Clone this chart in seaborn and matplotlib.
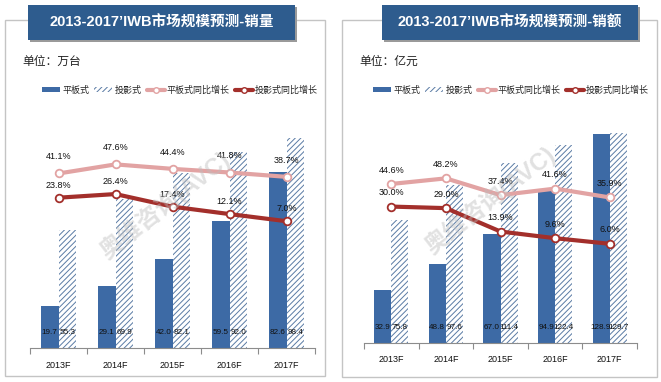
import numpy as np
import pandas as pd
import matplotlib.pyplot as plt
import seaborn as sns
from matplotlib.patches import Rectangle, Patch
from matplotlib.lines import Line2D

# data
years = ["2013F", "2014F", "2015F", "2016F", "2017F"]

vol_flat = [19.7, 29.1, 42.0, 59.5, 82.6]
vol_proj = [55.3, 69.9, 82.1, 92.0, 98.4]
vol_flat_growth = [41.1, 47.6, 44.4, 41.8, 38.7]
vol_proj_growth = [23.8, 26.4, 17.4, 12.1, 7.0]

amt_flat = [32.9, 48.8, 67.0, 94.9, 128.9]
amt_proj = [75.8, 97.6, 111.4, 122.4, 129.7]
amt_flat_growth = [44.6, 48.2, 37.4, 41.6, 35.9]
amt_proj_growth = [30.0, 29.0, 13.9, 9.6, 6.0]

series_names = ["平板式", "投影式", "平板式同比增长", "投影式同比增长"]

# colours
BLUE = "#3D6AA5"
HATCH = "#5A7BA5"
PINK = "#E2A3A3"
DARKRED = "#A32F2B"
BANNER = "#2E5C8E"

sns.set_theme(style="white")
plt.rcParams["font.family"] = ["Liberation Sans", "Noto Sans CJK SC"]
plt.rcParams["hatch.linewidth"] = 0.7

W, H = 661, 382
fig = plt.figure(figsize=(W / 100, H / 100), dpi=100)


def px_rect(x0, y0, x1, y1):
    return [x0 / W, 1 - y1 / H, (x1 - x0) / W, (y1 - y0) / H]


def fig_box(x0, y0, x1, y1, **kw):
    r = Rectangle((x0 / W, 1 - y1 / H), (x1 - x0) / W, (y1 - y0) / H,
                  transform=fig.transFigure, **kw)
    fig.add_artist(r)


def draw_panel(box, banner, axbox, title, unit, flat, proj, g_flat, g_proj,
               ymax, glim, legend_x, wm_xy, off_flat, off_proj):
    # Rahmen + Titelbalken
    fig_box(*box, fill=False, ec="#C4C4C4", lw=1.0)
    bx0, by0, bx1, by1 = banner
    fig_box(bx0 + 2, by0 + 2, bx1 + 2, by1 + 2, fc="#9A9A9A", ec="none")
    fig_box(*banner, fc=BANNER, ec="none")
    fig.text((bx0 + bx1) / 2 / W, 1 - (by0 + by1) / 2 / H, title,
             color="white", fontsize=10.5, fontweight="bold",
             ha="center", va="center")
    fig.text((box[0] + 17) / W, 1 - 62 / H, unit, fontsize=8.5,
             ha="left", va="center", color="#222222")

    ax = fig.add_axes(px_rect(*axbox))
    df = pd.DataFrame({
        "year": years * 2,
        "value": flat + proj,
        "type": [series_names[0]] * len(years) + [series_names[1]] * len(years),
    })
    sns.barplot(data=df, x="year", y="value", hue="type",
                palette=[BLUE, "white"], saturation=1, width=0.63, gap=0,
                legend=False, ax=ax)
    for p in ax.containers[1]:
        p.set_hatch("//////")
        p.set_edgecolor(HATCH)
        p.set_linewidth(0)
    for p in ax.containers[0]:
        p.set_linewidth(0)

    # Werte unten in den Balken
    for cont, vals in zip(ax.containers, [flat, proj]):
        for p, v in zip(cont, vals):
            ax.annotate(f"{v:.1f}", (p.get_x() + p.get_width() / 2, 0),
                        xytext=(0, 11), textcoords="offset points",
                        ha="center", va="center", fontsize=5.9,
                        color="#111111")

    # Wachstumslinien
    ax2 = ax.twinx()
    for vals, col, off in [(g_flat, PINK, off_flat), (g_proj, DARKRED, off_proj)]:
        sns.pointplot(x=years, y=vals, color=col, errorbar=None, ax=ax2,
                      markers="o", linewidth=3.0, markersize=5.5,
                      markerfacecolor="white", markeredgecolor=col,
                      markeredgewidth=1.3)
        for i, v in enumerate(vals):
            ax2.annotate(f"{v:.1f}%", (i, v), xytext=(0, off),
                         textcoords="offset points", ha="center",
                         va="center", fontsize=6.5, color="#111111")
    ax2.set_ylim(*glim)
    ax2.set_yticks([])
    ax2.set_ylabel("")
    for s in ax2.spines.values():
        s.set_visible(False)

    ax.set_ylim(0, ymax)
    ax.set_yticks([])
    ax.set_xlabel("")
    ax.set_ylabel("")
    for s in ["left", "right", "top"]:
        ax.spines[s].set_visible(False)
    ax.spines["bottom"].set_color("#8C8C8C")
    ax.spines["bottom"].set_linewidth(0.8)
    ax.set_xlim(-0.5, len(years) - 0.5)
    ax.set_xticks(np.arange(len(years) + 1) - 0.5)
    ax.set_xticklabels([])
    ax.set_xticks(np.arange(len(years)), minor=True)
    ax.set_xticklabels(years, minor=True)
    ax.tick_params(axis="x", which="major", length=4, width=0.8,
                   color="#8C8C8C", direction="out", bottom=True)
    ax.tick_params(axis="x", which="minor", length=0, pad=9,
                   labelsize=6.5, labelcolor="#111111", bottom=True)

    handles = [
        Patch(fc=BLUE, ec="none", label=series_names[0]),
        Patch(fc="white", ec=HATCH, lw=0, hatch="//////", label=series_names[1]),
        Line2D([], [], color=PINK, lw=3, marker="o", ms=4, mfc="white",
               mec=PINK, label=series_names[2]),
        Line2D([], [], color=DARKRED, lw=3, marker="o", ms=4, mfc="white",
               mec=DARKRED, label=series_names[3]),
    ]
    ax.legend(handles=handles, loc="center", ncol=4, frameon=False,
              bbox_to_anchor=(legend_x / W, 1 - 90 / H),
              bbox_transform=fig.transFigure, fontsize=6.5,
              handlelength=2.0, handleheight=0.45, handletextpad=0.2,
              columnspacing=0.6)

    # Wasserzeichen
    fig.text(wm_xy[0] / W, 1 - wm_xy[1] / H, "奥维咨询(AVC)", rotation=38,
             fontsize=17, fontweight="bold", color="#BDBDBD", alpha=0.45,
             ha="center", va="center", zorder=20)


draw_panel(box=(5, 20, 325, 376), banner=(28, 5, 295, 40),
           axbox=(30, 135, 315, 348),
           title="2013-2017’IWB市场规模预测-销量", unit="单位：万台",
           flat=vol_flat, proj=vol_proj,
           g_flat=vol_flat_growth, g_proj=vol_proj_growth,
           ymax=100, glim=(-83.6, 68.6), legend_x=180, wm_xy=(165, 205),
           off_flat=12, off_proj=9)

draw_panel(box=(342, 20, 657, 377), banner=(382, 5, 638, 40),
           axbox=(364, 130, 637, 343),
           title="2013-2017’IWB市场规模预测-销额", unit="单位：亿元",
           flat=amt_flat, proj=amt_proj,
           g_flat=amt_flat_growth, g_proj=amt_proj_growth,
           ymax=131.5, glim=(-58, 79.4), legend_x=511, wm_xy=(490, 200),
           off_flat=10, off_proj=10)

fig.savefig("out.png", dpi=100)
